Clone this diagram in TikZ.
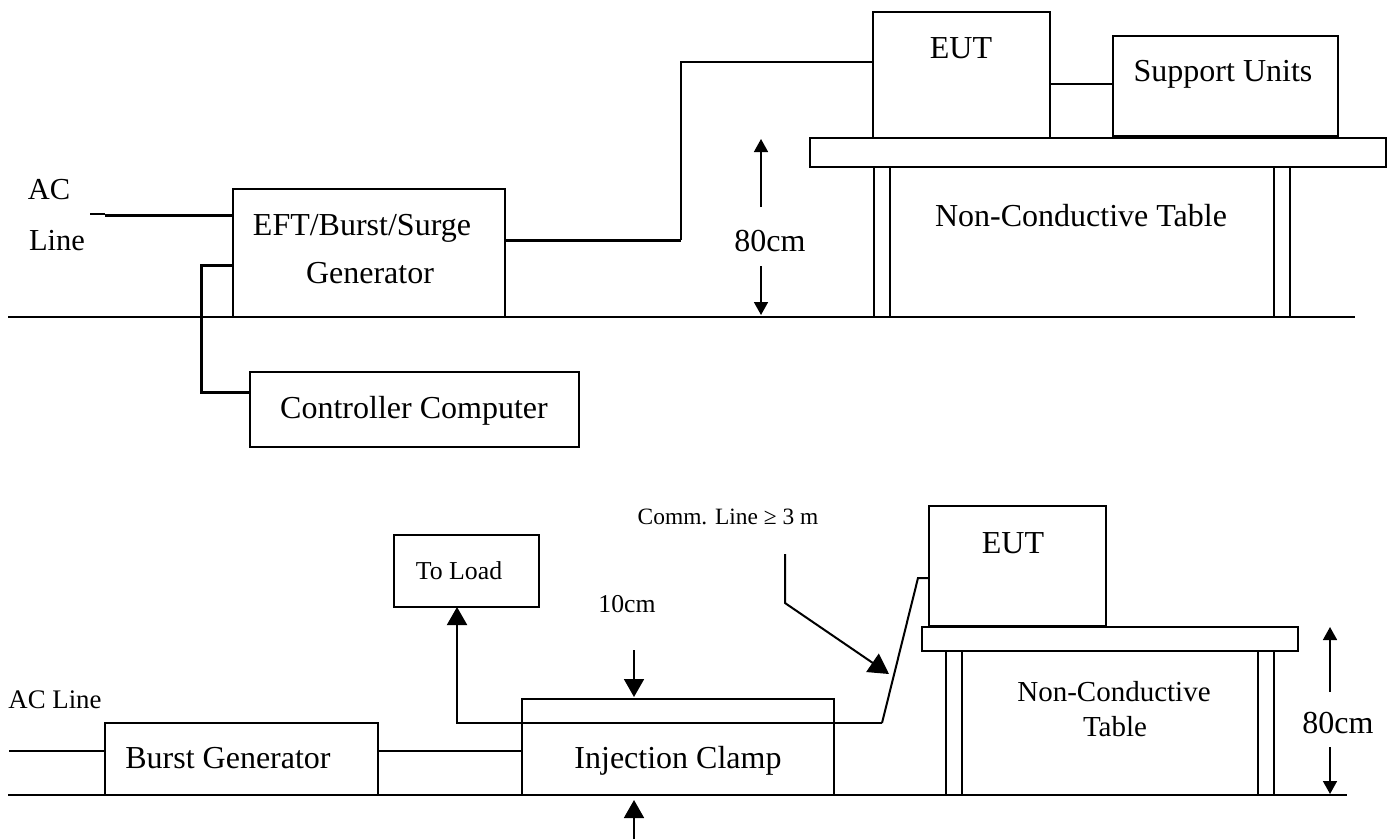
\documentclass[tikz,border=0pt]{standalone}
\usepackage{fontspec}
\setmainfont{Liberation Serif}
\usetikzlibrary{arrows.meta}
\tikzset{
 box/.style={draw=black,line width=2pt,fill=none,inner sep=0pt,outer sep=0pt,rectangle},
 wire/.style={line width=2pt,line join=miter},
 heavy/.style={line width=3pt,line join=miter},
 small/.style={-{Triangle[length=13pt,width=14pt]},line width=1.6pt},
 big/.style={-{Triangle[length=18pt,width=20pt]},line width=1.8pt},
 txt/.style={inner sep=0pt,outer sep=0pt,font=\fontsize{32}{36}\selectfont,anchor=base},
 txs/.style={inner sep=0pt,outer sep=0pt,font=\fontsize{30.5}{34}\selectfont,anchor=base}
}
\newcommand{\bx}[5]{\node[box,minimum width=#4pt-#2pt,minimum height=#5pt-#3pt] (#1) at ({(#2+#4)/2},{(#3+#5)/2}) {};}
\begin{document}
\begin{tikzpicture}[x=1pt,y=-1pt]
\useasboundingbox (0,0) rectangle (1396,839);
% ---------- top diagram
\coordinate (gndA) at (8,317); \coordinate (gndB) at (1355,317);
\draw[wire] (gndA) -- (gndB);
\bx{eft}{233}{189}{505}{317}
\bx{ctrl}{250}{372}{579}{447}
\bx{eut}{873}{12}{1050}{138}
\bx{sup}{1113}{36}{1338}{136}
\bx{top}{810}{138}{1386}{167}
\bx{legA}{874}{167}{890}{317}
\bx{legB}{1274}{167}{1290}{317}
\coordinate (acA) at (90,214); \coordinate (acB) at (105,214); \coordinate (acC) at (105,215);
\draw[line width=1.2pt] (acA) -- (acB);
\draw[heavy] (acC) -- (eft.west |- acC);
\coordinate (cj) at (233,265); \coordinate (cm) at (201,265); \coordinate (cn) at (201,392);
\draw[heavy] (cj) -- (cm) -- (cn) -- (ctrl.west |- cn);
\coordinate (oa) at (505,240); \coordinate (ob) at (681,240); \coordinate (oc) at (681,62);
\draw[heavy] (oa) -- (ob);
\draw[line width=2.4pt] (ob) -- (oc) -- (eut.west |- oc);
\coordinate (ea) at (1050,84);
\draw[line width=2.4pt] (ea) -- (sup.west |- ea);
\coordinate (da) at (761,207); \coordinate (db) at (761,139); \coordinate (dc) at (761,266); \coordinate (dd) at (761,315);
\draw[small] (da) -- (db);
\draw[small] (dc) -- (dd);
\node[txs] (tAC) at (49,199) {AC};
\node[txs] (tLine) at (57,250) {Line};
\node[txt] (tEFT) at (362,235) {EFT/Burst/Surge};
\node[txt] (tGen) at (370,283) {Generator};
\node[txt] (tCtrl) at (414,418) {Controller Computer};
\node[txt] (tEUT) at (961,58) {EUT};
\node[txt] (tSup) at (1223,81) {Support Units};
\node[txt] (tNCT) at (1081,226) {Non-Conductive Table};
\node[txt] (t80) at (770,251) {80cm};
% ---------- bottom diagram
\coordinate (gA) at (8,795); \coordinate (gB) at (1347,795);
\draw[wire] (gA) -- (gB);
\bx{burst}{105}{723}{378}{795}
\bx{clamp}{522}{699}{834}{795}
\bx{load}{394}{535}{539}{607}
\bx{eutb}{929}{506}{1106}{626}
\bx{topb}{922}{627}{1298}{651}
\bx{legC}{946}{651}{962}{795}
\bx{legD}{1258}{651}{1274}{795}
\coordinate (lA) at (9,751);
\draw[wire] (lA) -- (burst.west |- lA);
\coordinate (lB) at (378,751);
\draw[wire] (lB) -- (clamp.west |- lB);
\coordinate (wa) at (457,723); \coordinate (wb) at (882,723); \coordinate (wc) at (918,578);
\draw[big,line width=2pt] (wb) -- (wa) -- (wa |- load.south);
\draw[wire] (wb) -- (wc) -- (eutb.west |- wc);
\coordinate (cA) at (785,554); \coordinate (cB) at (785,603); \coordinate (cC) at (889,674);
\draw[-{Triangle[length=20pt,width=22pt]},line width=2pt] (cA) -- (cB) -- (cC);
\coordinate (ta) at (634,650); \coordinate (tb) at (634,697);
\draw[big] (ta) -- (tb);
\coordinate (ba) at (634,839); \coordinate (bb) at (634,800);
\draw[big] (ba) -- (bb);
\coordinate (ra) at (1330,692); \coordinate (rb) at (1330,627); \coordinate (rc) at (1330,747); \coordinate (rd) at (1330,794);
\draw[small] (ra) -- (rb);
\draw[small] (rc) -- (rd);
\node[inner sep=0pt,anchor=base,font=\fontsize{23.4}{26}\selectfont] (tComm) at (728,524) {Comm. Line ≥ 3 m};
\node[inner sep=0pt,anchor=base,font=\fontsize{25.8}{29}\selectfont] (tLoad) at (459,579) {To Load};
\node[inner sep=0pt,anchor=base,font=\fontsize{25.7}{29}\selectfont] (t10) at (627,612) {10cm};
\node[inner sep=0pt,anchor=base,font=\fontsize{26.8}{30}\selectfont] (tACb) at (55,708) {AC Line};
\node[txt] (tBG) at (228,768) {Burst Generator};
\node[txt] (tIC) at (678,768) {Injection Clamp};
\node[txt] (tEUTb) at (1013,553) {EUT};
\node[inner sep=0pt,anchor=base,font=\fontsize{29}{37}\selectfont] (tNCb) at (1114,701) {Non-Conductive};
\node[inner sep=0pt,anchor=base,font=\fontsize{29}{37}\selectfont] (tTb) at (1115,736) {Table};
\node[txt] (t80b) at (1338,733) {80cm};
\end{tikzpicture}
\end{document}
